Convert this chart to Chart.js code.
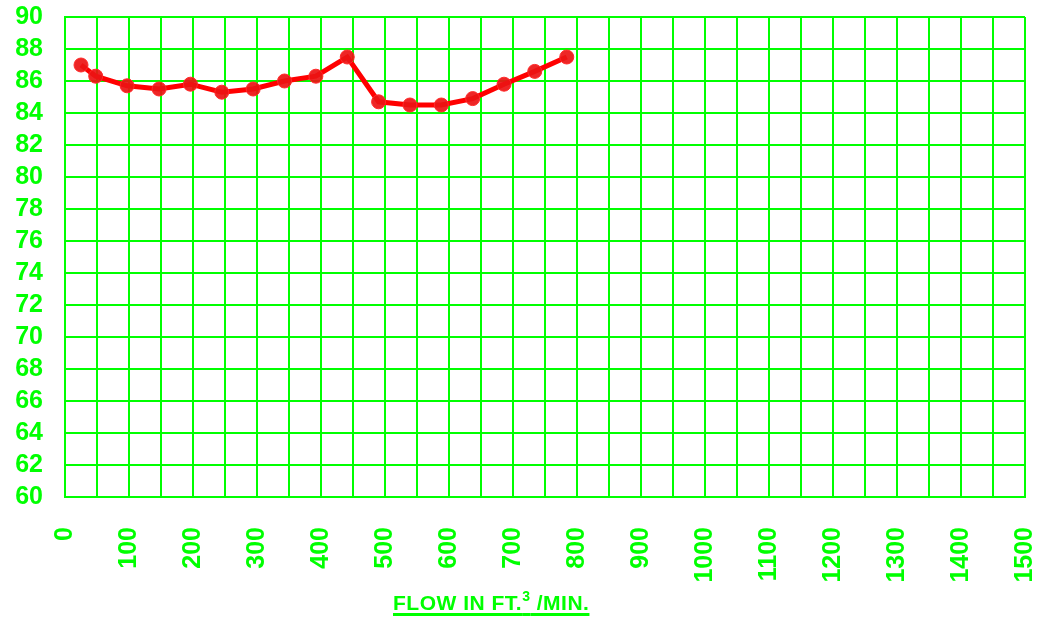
<!DOCTYPE html>
<html lang="en">
<head>
    <meta charset="UTF-8">
    <title>Flow chart</title>
    <script src="https://cdn.jsdelivr.net/npm/chart.js"></script>
    <style>
        body {
            margin: 0;
            background: #fff;
            font-family: 'Liberation Sans', Arial, sans-serif;
        }
        .wrap {
            position: relative;
            width: 1038px;
            height: 619px;
        }
        .x-title {
            position: absolute;
            left: 393px;
            top: 591px;
            color: #00ff00;
            font-weight: bold;
            font-size: 21px;
            letter-spacing: 0.5px;
            line-height: 24px;
            text-decoration: underline;
            text-decoration-thickness: 2.5px;
            text-underline-offset: 3px;
            white-space: nowrap;
        }
        .x-title sup {
            font-size: 14px;
            vertical-align: 9px;
            line-height: 0;
        }
    </style>
</head>
<body>
    <div class="wrap">
        <canvas id="flowChart" width="1038" height="619"></canvas>
        <div class="x-title">FLOW IN FT.<sup>3</sup> /MIN.</div>
    </div>

    <script>
        // values
        const flow = [25, 48, 97, 147, 196, 245, 294, 343, 392, 441, 490, 539, 588, 637, 686, 734, 784];
        const reading = [87.0, 86.3, 85.7, 85.5, 85.8, 85.3, 85.5, 86.0, 86.3, 87.5, 84.7, 84.5, 84.5, 84.9, 85.8, 86.6, 87.5];
        const xTicks = [0, 1500, 50];   // min, max, step
        const yTicks = [60, 90, 2];

        const green = '#00ff00';
        const tickFont = { family: "'Liberation Sans', Arial, sans-serif", size: 25, weight: 'bold' };

        // keep the plot box fixed, labels may overflow it
        function noPad(s) {
            s.paddingLeft = 0;
            s.paddingRight = 0;
            s.paddingTop = 0;
            s.paddingBottom = 0;
        }

        new Chart(document.getElementById('flowChart'), {
            type: 'line',
            data: {
                datasets: [{
                    data: flow.map((x, i) => ({ x: x, y: reading[i] })),
                    borderColor: '#ff0000',
                    borderWidth: 5,
                    pointRadius: 7,
                    pointBackgroundColor: 'rgba(235, 20, 20, 0.92)',
                    pointBorderColor: '#ff2a2a',
                    pointBorderWidth: 1,
                    tension: 0
                }]
            },
            options: {
                responsive: false,
                animation: false,
                layout: { padding: { top: 17, right: 13, left: 0, bottom: 0 } },
                plugins: {
                    legend: { display: false },
                    tooltip: { enabled: false }
                },
                scales: {
                    x: {
                        type: 'linear',
                        min: xTicks[0],
                        max: xTicks[1],
                        afterFit: s => { s.height = 122; noPad(s); },
                        grid: { color: green, lineWidth: 2, drawTicks: false },
                        border: { color: green, width: 2 },
                        ticks: {
                            stepSize: xTicks[2],
                            autoSkip: false,
                            minRotation: 90,
                            maxRotation: 90,
                            padding: 30,
                            color: green,
                            font: tickFont,
                            callback: v => (v % 100 === 0 ? String(v) : '')
                        }
                    },
                    y: {
                        min: yTicks[0],
                        max: yTicks[1],
                        afterFit: s => { s.width = 65; noPad(s); },
                        grid: { color: green, lineWidth: 2, drawTicks: false },
                        border: { color: green, width: 2 },
                        ticks: {
                            stepSize: yTicks[2],
                            autoSkip: false,
                            padding: 22,
                            color: green,
                            font: tickFont
                        }
                    }
                }
            }
        });
    </script>
</body>
</html>
